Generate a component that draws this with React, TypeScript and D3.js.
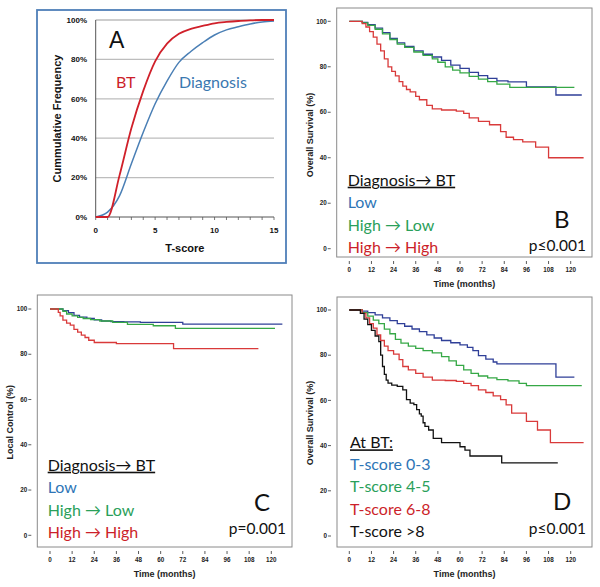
import React from "react";
import * as d3 from "d3";

// ---------- Panel A data ----------
const tScoreA = [0, 1, 2, 3, 4, 5, 6, 7, 8, 9, 10, 11, 12, 13, 14, 15];
const cumBT = [0, 0, 21, 45, 64, 79, 88, 93, 95.5, 97, 98.3, 99, 99.5, 99.8, 100, 100];
const cumDiag = [0, 2.5, 10.7, 27, 43, 57.5, 69, 78.5, 84, 88.5, 92.4, 95, 96.6, 98, 99, 99.5];
const yTicksA = [0, 20, 40, 60, 80, 100];
const xTicksA = [0, 5, 10, 15];

// ---------- KM data (time in months, survival %) ----------
const bRedT = [0, 7, 9, 11, 13, 15, 17, 19, 21, 23, 25, 27, 29, 31, 33, 36, 38, 42, 45, 50, 58, 62, 65, 70, 76, 82, 85, 89, 94, 101, 108, 127];
const bRedS = [100, 99, 97.5, 95.5, 93, 90, 87, 83.5, 80, 78, 76, 73.5, 71.5, 70, 69, 67, 65.5, 63, 61.5, 61, 60.5, 59.5, 57.5, 56, 54.5, 51.5, 49, 48, 47, 44.7, 40, 40];
const bBlueT = [0, 7, 10, 14, 18, 22, 26, 30, 35, 40, 45, 50, 55, 60, 65, 70, 75, 80, 86, 96, 112, 126];
const bBlueS = [100, 99.5, 98.5, 97, 95, 92.5, 90.5, 89, 87, 85.5, 84.3, 82.8, 80.7, 79.3, 77.5, 76.1, 74.9, 73.8, 73.4, 71.2, 67.6, 67.6];
const bGreenT = [0, 7, 10, 14, 18, 22, 26, 30, 35, 40, 45, 48, 52, 56, 60, 65, 70, 75, 80, 87, 122];
const bGreenS = [100, 99.3, 98.2, 96.5, 94.5, 92, 90, 88.5, 86.5, 85, 83.5, 82, 80, 78.5, 77.3, 75.8, 74.6, 73.5, 72.4, 70.9, 70.9];

const cBlueT = [0, 7, 10, 13, 16, 20, 24, 28, 33, 40, 49, 72, 126];
const cBlueS = [100, 99.3, 98.4, 97.2, 96.4, 95.9, 95.2, 94.7, 94.4, 94.3, 94.1, 93.3, 93.3];
const cGreenT = [0, 7, 9, 12, 15, 18, 22, 27, 34, 42, 56, 68, 122];
const cGreenS = [100, 99, 97.8, 97, 96.3, 95.8, 95.3, 94.7, 94.1, 93.2, 92.6, 91.4, 91.4];
const cRedT = [0, 4.5, 5.5, 7, 9, 11, 13, 15, 17, 19, 21, 24, 36, 67, 113];
const cRedS = [100, 98.5, 97, 95.1, 93.8, 92.9, 91, 89.8, 88.5, 87.4, 86.2, 85.2, 84.7, 82.5, 82.5];

const dBlueT = [0, 7, 10, 14, 18, 22, 26, 30, 34, 38, 42, 46, 50, 55, 60, 64, 67, 70, 74, 78, 80, 112, 122];
const dBlueS = [100, 99.5, 98.8, 97.8, 96.5, 95.3, 94, 92.8, 91.6, 90.4, 89, 87.6, 86.5, 85.5, 84.6, 83.5, 82, 79.8, 78.3, 77, 76.2, 70.3, 70.3];
const dGreenT = [0, 7, 10, 13, 16, 19, 22, 25, 28, 32, 36, 40, 45, 50, 54, 58, 62, 66, 70, 75, 80, 86, 92, 96, 126];
const dGreenS = [100, 98.8, 97.3, 95.5, 94, 91.5, 89.5, 87, 85.3, 84, 83, 82, 81, 79.4, 77.5, 75.5, 73.5, 72, 70.8, 70, 69.2, 68.6, 67.5, 66.5, 66.5];
const dRedT = [0, 7, 9, 11, 13, 15, 17, 19, 21, 24, 27, 29, 32, 36, 40, 45, 52, 58, 62, 66, 70, 74, 78, 82, 85, 88, 96, 102, 109, 127];
const dRedS = [100, 98.5, 96.5, 94, 92, 89, 86.5, 84, 82, 80.5, 78, 75, 73.5, 72, 70.3, 69, 68.8, 68.4, 67.5, 66.5, 64.7, 63.5, 62, 60.3, 58, 54.4, 50.7, 46.9, 41.3, 41.3];
const dBlackT = [0, 6, 8, 10, 12, 14, 16, 17, 18, 19, 20, 21, 23, 26, 29, 31, 33, 35, 36.5, 38, 39, 40, 41, 43, 45.5, 50, 60, 62.7, 65.4, 82.6, 113];
const dBlackS = [100, 98.5, 96, 93.5, 91, 88.5, 86, 80, 75, 71.5, 69, 67.6, 66.8, 66.2, 64.7, 60.3, 58.8, 58.1, 55.9, 54, 53, 50.1, 48.5, 46.9, 43.2, 41.3, 39.5, 38, 35.4, 32.4, 32.4];

const kmYTicks = [0, 20, 40, 60, 80, 100];
const kmXTicks = [0, 12, 24, 36, 48, 60, 72, 84, 96, 108, 120];

const legendBC = ["Low", "High \u2192 Low", "High \u2192 High"];
const legendD = ["T-score 0-3", "T-score 4-5", "T-score 6-8", "T-score >8"];

const KM_BLUE = "#2f3f98";
const KM_GREEN = "#36a846";
const KM_RED = "#d93a3a";
const LG_BLUE = "#2e75b6";
const LG_GREEN = "#2aa05a";
const LG_RED = "#cc1f2a";

const LEG_FONT = "Lato, 'Open Sans', sans-serif";
const AX_FONT = "Arial, 'Liberation Sans', sans-serif";

type Series = { t: number[]; s: number[]; color: string };

function KMPanel(props: {
  frame: [number, number, number, number];
  x0: number; x120: number; y0: number; y100: number;
  ylabel: string; series: Series[];
}) {
  const { frame, x0, x120, y0, y100, ylabel, series } = props;
  const [fl, ft, fr, fb] = frame;
  const x = d3.scaleLinear().domain([0, 120]).range([x0, x120]);
  const y = d3.scaleLinear().domain([0, 100]).range([y0, y100]);
  const line = d3.line<[number, number]>().x(d => x(d[0])).y(d => y(d[1])).curve(d3.curveStepAfter);
  return (
    <g>
      <rect x={fl} y={ft} width={fr - fl} height={fb - ft} fill="none" stroke="#8a8a8a" strokeWidth={1} />
      {kmYTicks.map(v => (
        <g key={"y" + v}>
          <line x1={fl - 9} x2={fl - 6} y1={y(v)} y2={y(v)} stroke="#333" strokeWidth={0.8} />
          <text x={fl - 10} y={y(v)} dy="0.35em" textAnchor="end" fontFamily={AX_FONT} fontWeight="bold" fontSize={6.3} fill="#222">{v}</text>
        </g>
      ))}
      {kmXTicks.map(v => (
        <g key={"x" + v}>
          <line x1={x(v)} x2={x(v)} y1={fb + 4} y2={fb + 7} stroke="#333" strokeWidth={0.8} />
          <text x={x(v)} y={fb + 15} textAnchor="middle" fontFamily={AX_FONT} fontWeight="bold" fontSize={6.3} fill="#222">{v}</text>
        </g>
      ))}
      <text x={(fl + fr) / 2 + 0} y={fb + 30} textAnchor="middle" fontFamily={AX_FONT} fontWeight="bold" fontSize={9} fill="#222">Time (months)</text>
      <text transform={`translate(${fl - 24},${(y0 + y100) / 2}) rotate(-90)`} textAnchor="middle" fontFamily={AX_FONT} fontWeight="bold" fontSize={9} fill="#222">{ylabel}</text>
      {series.map((se, i) => (
        <path key={i} d={line(se.t.map((t, j) => [t, se.s[j]] as [number, number])) || ""} fill="none" stroke={se.color} strokeWidth={1.3} />
      ))}
    </g>
  );
}

function PanelA() {
  const x = d3.scaleLinear().domain([0, 15]).range([95.7, 274]);
  const y = d3.scaleLinear().domain([0, 100]).range([217, 20]);
  const line = d3.line<[number, number]>().x(d => x(d[0])).y(d => y(d[1])).curve(d3.curveMonotoneX);
  const minor = d3.range(0, 16);
  return (
    <g>
      <rect x={37} y={10} width={249} height={253} fill="none" stroke="#4f7fb8" strokeWidth={1.8} />
      {yTicksA.map(v => (
        <g key={v}>
          {v > 0 && <line x1={x(0)} x2={x(15)} y1={y(v)} y2={y(v)} stroke="#bdbdbd" strokeWidth={1.3} />}
          <text x={87} y={y(v)} dy="0.35em" textAnchor="end" fontFamily={AX_FONT} fontWeight="bold" fontSize={8} fill="#111">{v + "%"}</text>
        </g>
      ))}
      <line x1={x(0)} x2={x(0)} y1={y(0)} y2={y(100)} stroke="#555" strokeWidth={1} />
      <line x1={x(0)} x2={x(15)} y1={y(0)} y2={y(0)} stroke="#555" strokeWidth={1} />
      {minor.map(v => (
        <line key={"m" + v} x1={x(v)} x2={x(v)} y1={y(0)} y2={y(0) + 3} stroke="#555" strokeWidth={0.8} />
      ))}
      {xTicksA.map(v => (
        <text key={"x" + v} x={x(v)} y={233} textAnchor="middle" fontFamily={AX_FONT} fontWeight="bold" fontSize={8} fill="#111">{v}</text>
      ))}
      <text x={x(7.5)} y={252} textAnchor="middle" fontFamily={AX_FONT} fontWeight="bold" fontSize={11} fill="#111">T-score</text>
      <text transform={`translate(61,${y(50)}) rotate(-90)`} textAnchor="middle" fontFamily={AX_FONT} fontWeight="bold" fontSize={11} fill="#111">Cummulative Frequency</text>
      <path d={line(tScoreA.map((t, i) => [t, cumDiag[i]] as [number, number])) || ""} fill="none" stroke="#4a7fb5" strokeWidth={1.5} />
      <path d={line(tScoreA.map((t, i) => [t, cumBT[i]] as [number, number])) || ""} fill="none" stroke="#d0202a" strokeWidth={1.8} />
      <text x={109} y={48} fontFamily={AX_FONT} fontSize={23} fill="#111">A</text>
      <text x={116} y={88} fontFamily={LEG_FONT} fontSize={16} fill="#cc1f2a">BT</text>
      <text x={179} y={88} fontFamily={LEG_FONT} fontSize={16} fill="#3a78b0">Diagnosis</text>
    </g>
  );
}

function LegendBC(props: { x: number; y: number; letter: string; p: string; lx: number; ly: number; py: number; pr: number }) {
  const { x, y, letter, p, lx, ly, py, pr } = props;
  const colors = [LG_BLUE, LG_GREEN, LG_RED];
  return (
    <g fontFamily={LEG_FONT}>
      <text x={x} y={y} fontSize={16} fill="#111" textDecoration="underline">{"Diagnosis\u2192 BT"}</text>
      {legendBC.map((s, i) => (
        <text key={s} x={x} y={y + 22.5 * (i + 1)} fontSize={16} fill={colors[i]}>{s}</text>
      ))}
      <text x={lx} y={ly} fontSize={24} fill="#111">{letter}</text>
      <text x={pr} y={py} fontSize={15.5} fill="#111" textAnchor="end">{p}</text>
    </g>
  );
}

export default function App() {
  const dColors = [LG_BLUE, LG_GREEN, LG_RED, "#111"];
  return (
    <svg width={600} height={587} style={{ position: "absolute", left: 0, top: 0, background: "#fff" }}>
      <rect width={600} height={587} fill="#fff" />
      <PanelA />
      <KMPanel frame={[336.7, 8, 592, 257]} x0={349.3} x120={570.7} y0={248.7} y100={21.3} ylabel="Overall Survival (%)"
        series={[{ t: bBlueT, s: bBlueS, color: KM_BLUE }, { t: bGreenT, s: bGreenS, color: KM_GREEN }, { t: bRedT, s: bRedS, color: KM_RED }]} />
      <KMPanel frame={[37.3, 295, 292, 547]} x0={50} x120={271.3} y0={535.3} y100={309} ylabel="Local Control (%)"
        series={[{ t: cBlueT, s: cBlueS, color: KM_BLUE }, { t: cGreenT, s: cGreenS, color: KM_GREEN }, { t: cRedT, s: cRedS, color: KM_RED }]} />
      <KMPanel frame={[337, 297, 592, 547]} x0={349.3} x120={570.7} y0={536} y100={310} ylabel="Overall Survival (%)"
        series={[{ t: dBlueT, s: dBlueS, color: KM_BLUE }, { t: dGreenT, s: dGreenS, color: KM_GREEN }, { t: dRedT, s: dRedS, color: KM_RED }, { t: dBlackT, s: dBlackS, color: "#111" }]} />
      <LegendBC x={347.7} y={185.7} letter="B" p={"p\u22640.001"} lx={554} ly={228} py={250.7} pr={586} />
      <LegendBC x={47.7} y={470.7} letter="C" p={"p=0.001"} lx={254} ly={510.7} py={534} pr={286} />
      <g fontFamily={LEG_FONT}>
        <text x={350} y={448.3} fontSize={16} fill="#111" textDecoration="underline">At BT:</text>
        {legendD.map((s, i) => (
          <text key={s} x={350} y={470 + 22.4 * i} fontSize={16} fill={dColors[i]}>{s}</text>
        ))}
        <text x={553} y={510} fontSize={24} fill="#111">D</text>
        <text x={586} y={534} fontSize={15.5} fill="#111" textAnchor="end">{"p\u22640.001"}</text>
      </g>
    </svg>
  );
}
